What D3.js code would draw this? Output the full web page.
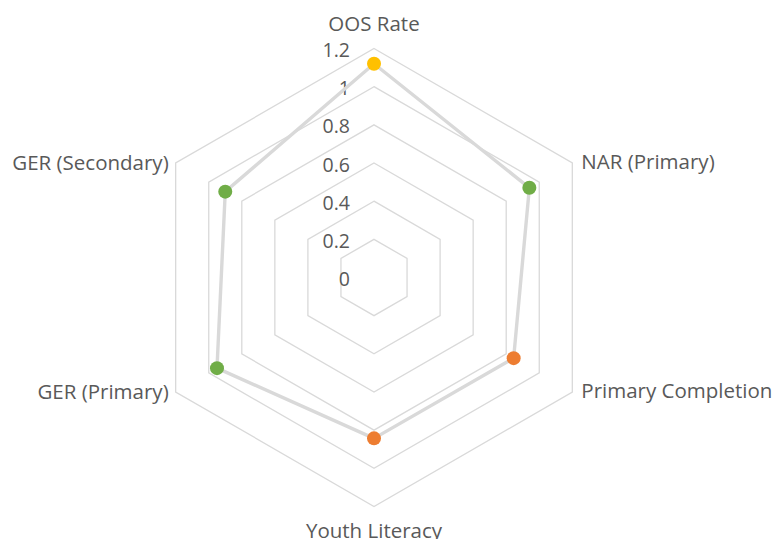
<!DOCTYPE html>
<html><head><meta charset="utf-8">
<script src="https://cdn.jsdelivr.net/npm/d3@7"></script>
<style>html,body{margin:0;padding:0;background:#fff;}svg{display:block;}</style>
</head><body>
<svg id="chart" width="772" height="539"></svg>
<script>
const categories = ["OOS Rate", "NAR (Primary)", "Primary Completion", "Youth Literacy", "GER (Primary)", "GER (Secondary)"];
const values = [1.12, 0.94, 0.845, 0.843, 0.95, 0.90];
const pointColors = ["#FFC000", "#70AD47", "#ED7D31", "#ED7D31", "#70AD47", "#70AD47"];
const tickValues = [0, 0.2, 0.4, 0.6, 0.8, 1, 1.2];
const tickLabels = ["0", "0.2", "0.4", "0.6", "0.8", "1", "1.2"];

const svg = d3.select("#chart");
const cx = 374, cy = 277.5, R = 229;
const r = d3.scaleLinear().domain([0, 1.2]).range([0, R]);
const angle = d3.scaleLinear().domain([0, categories.length]).range([0, 2 * Math.PI]);
const g = svg.append("g").attr("transform", `translate(${cx},${cy})`);
const font = "'Open Sans', 'Noto Sans', sans-serif";
const textColor = "#595959";

// grid rings
const ringLine = d3.lineRadial().angle((d, i) => angle(i)).radius(d => r(d)).curve(d3.curveLinearClosed);
tickValues.filter(t => t > 0).forEach(t => {
  g.append("path").attr("d", ringLine(categories.map(() => t)))
    .attr("fill", "none").attr("stroke", "#D9D9D9").attr("stroke-width", 1.3);
});

// tick labels
g.selectAll(".tick").data(tickValues).join("text")
  .attr("x", -24).attr("y", d => -r(d) + 1)
  .attr("text-anchor", "end").attr("dominant-baseline", "central")
  .attr("font-family", font).attr("font-size", 19.5).attr("fill", textColor)
  .text((d, i) => tickLabels[i]);

// category labels
categories.forEach((c, i) => {
  const a = angle(i);
  const px = Math.sin(a) * R, py = -Math.cos(a) * R;
  let x = px, y = py, anchor = "middle";
  if (Math.abs(Math.sin(a)) < 0.01) { y = py + (py < 0 ? -26 : 23); }
  else if (Math.sin(a) > 0) { x = px + 9; anchor = "start"; y = py - 2; }
  else { x = px - 7; anchor = "end"; y = py - 1; }
  g.append("text").attr("x", x).attr("y", y)
    .attr("text-anchor", anchor).attr("dominant-baseline", "central")
    .attr("font-family", font).attr("font-size", 20.5).attr("fill", textColor)
    .text(c);
});

// series line
g.append("path").attr("d", ringLine(values))
  .attr("fill", "none").attr("stroke", "#D9D9D9").attr("stroke-width", 3.4)
  .attr("stroke-linejoin", "round");

// markers
g.selectAll(".pt").data(values).join("circle")
  .attr("cx", (d, i) => Math.sin(angle(i)) * r(d))
  .attr("cy", (d, i) => -Math.cos(angle(i)) * r(d))
  .attr("r", 7).attr("fill", (d, i) => pointColors[i]);
</script>
</body></html>
